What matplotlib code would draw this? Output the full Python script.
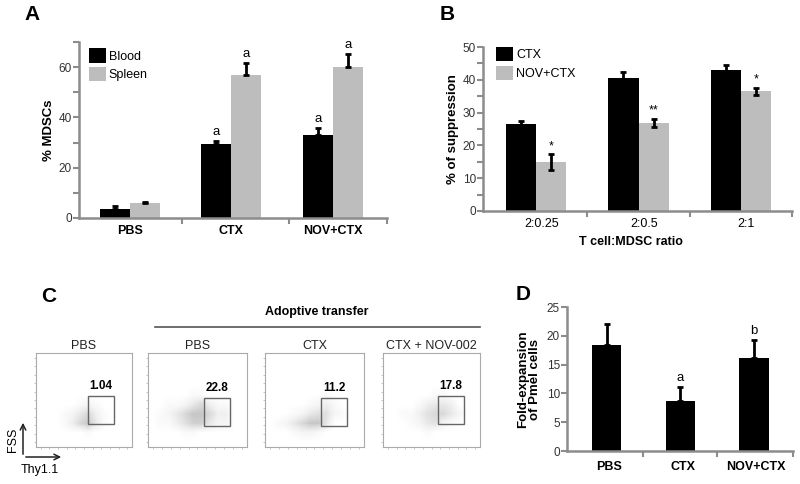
import numpy as np
import matplotlib
matplotlib.use("Agg")
import matplotlib.pyplot as plt
from matplotlib.patches import Rectangle
from matplotlib.text import Annotation

plt.rcParams['font.family'] = ['Liberation Sans', 'DejaVu Sans']

# ── data ────────────────────────────────────────────────────────
groups_A = ["PBS", "CTX", "NOV+CTX"]
blood = [3.5, 29.6, 33.2]
blood_err = [1.2, 1.1, 2.5]
spleen = [5.9, 56.8, 60.1]
spleen_err = [0.4, 4.8, 5.0]
blood_sig = ["", "a", "a"]
spleen_sig = ["", "a", "a"]

ratios = ["2:0.25", "2:0.5", "2:1"]
ctx_sup = [26.6, 40.5, 43.1]
ctx_sup_err = [0.8, 1.8, 1.4]
nov_sup = [14.9, 26.9, 36.5]
nov_sup_err = [2.4, 1.3, 1.1]
sup_stars = ["*", "**", "*"]

groups_D = ["PBS", "CTX", "NOV+CTX"]
fold = [18.4, 8.7, 16.1]
fold_err = [3.7, 2.4, 3.2]
fold_sig = ["", "a", "b"]

flow_titles = ["PBS", "PBS", "CTX", "CTX + NOV-002"]
flow_pct = ["1.04", "22.8", "11.2", "17.8"]
# coarse event density (rows top -> bottom)
flow_density = [
    ["000000000000", "000000000000", "000000000000", "000000000000",
     "000000000000", "000001210000", "000124631000", "000136841000",
     "000000100000", "000000000000"],
    ["000000000000", "000000000000", "000000000000", "000000000000",
     "000001100000", "001124631100", "012468863300", "011357742200",
     "000011000000", "000000000000"],
    ["000000000000", "000000000000", "000000000000", "000000000000",
     "000000010000", "000001231000", "000124552100", "012468840000",
     "000122100000", "000000000000"],
    ["000000000000", "000000000000", "000000000000", "000000000000",
     "000000110000", "000013443000", "001135664200", "000124521000",
     "000001000000", "000000000000"],
]

BLACK = "black"
GREY = "#BDBDBD"
AXC = "#8C8C8C"
W, H = 800, 484


def px_axes(fig, x0, x1, ytop, ybot):
    return fig.add_axes([x0 / W, 1 - ybot / H, (x1 - x0) / W, (ybot - ytop) / H])


def style_axis(ax):
    for s in ("top", "right"):
        ax.spines[s].set_visible(False)
    for s in ("left", "bottom"):
        ax.spines[s].set_color(AXC)
        ax.spines[s].set_linewidth(1.8)
    ax.tick_params(axis="y", which="both", color=AXC, width=1.5, length=4,
                   labelsize=8.5, labelcolor="#333333", pad=1)


fig = plt.figure(figsize=(8, 4.84), dpi=100, facecolor="white")

# ── A ──────────────────────────────────────────────────────────
ax = px_axes(fig, 79, 387, 42, 218)
style_axis(ax)
x = np.arange(len(groups_A))
bw = 0.295
ax.bar(x - bw / 2, blood, bw, color=BLACK, label="Blood")
ax.bar(x + bw / 2, spleen, bw, color=GREY, label="Spleen")
ax.errorbar(x - bw / 2, blood, yerr=[np.zeros(3), blood_err], fmt="none",
            ecolor="k", elinewidth=2, capsize=2.5, capthick=2)
ax.errorbar(x + bw / 2, spleen, yerr=[np.zeros(3), spleen_err], fmt="none",
            ecolor="k", elinewidth=2, capsize=2.5, capthick=2)
for i in range(3):
    if blood_sig[i]:
        ax.text(x[i] - bw / 2, blood[i] + blood_err[i] + 1.2, blood_sig[i],
                ha="center", va="bottom", fontsize=9.5)
    if spleen_sig[i]:
        ax.text(x[i] + bw / 2, spleen[i] + spleen_err[i] + 1.2, spleen_sig[i],
                ha="center", va="bottom", fontsize=9.5)
ax.set_xlim(-0.5, 2.53)
ax.set_ylim(0, 70)
ax.set_yticks([0, 20, 40, 60])
ax.set_yticks([10, 30, 50, 70], minor=True)
ax.set_xticks(x)
ax.set_xticklabels(groups_A, fontweight="bold", fontsize=9)
ax.set_xticks([0.51, 1.57, 2.53], minor=True)
ax.tick_params(axis="x", which="major", length=0, pad=5)
ax.tick_params(axis="x", which="minor", length=4, width=1.5, color=AXC)
ax.set_ylabel("% MDSCs", fontweight="bold", fontsize=9.5, labelpad=3)
ax.legend(loc="upper left", bbox_to_anchor=(0.032, 0.965), frameon=False,
          fontsize=9, handlelength=1.4, handleheight=1.4, borderpad=0,
          borderaxespad=0, handletextpad=0.2, labelspacing=0.35)

# ── B ──────────────────────────────────────────────────────────
ax = px_axes(fig, 483, 792, 47, 211)
style_axis(ax)
x = np.arange(len(ratios))
ax.bar(x - bw / 2, ctx_sup, bw, color=BLACK, label="CTX")
ax.bar(x + bw / 2, nov_sup, bw, color=GREY, label="NOV+CTX")
ax.errorbar(x - bw / 2, ctx_sup, yerr=ctx_sup_err, fmt="none",
            ecolor="k", elinewidth=2, capsize=2.5, capthick=2)
ax.errorbar(x + bw / 2, nov_sup, yerr=nov_sup_err, fmt="none",
            ecolor="k", elinewidth=2, capsize=2.5, capthick=2)
for i in range(3):
    ax.text(x[i] + bw / 2, nov_sup[i] + nov_sup_err[i] + 0.6, sup_stars[i],
            ha="center", va="bottom", fontsize=9)
ax.set_xlim(-0.52, 2.5)
ax.set_ylim(0, 50)
ax.set_yticks([0, 10, 20, 30, 40, 50])
ax.set_yticks([5, 15, 25, 35, 45], minor=True)
ax.set_xticks(x + 0.05)
ax.set_xticklabels(ratios, fontsize=9)
ax.set_xticks([0.5, 1.5, 2.5], minor=True)
ax.tick_params(axis="x", which="major", length=0, pad=5)
ax.tick_params(axis="x", which="minor", length=4, width=1.5, color=AXC)
ax.set_ylabel("% of suppression", fontweight="bold", fontsize=9.5, labelpad=3)
ax.set_xlabel("T cell:MDSC ratio", fontweight="bold", fontsize=9)
ax.xaxis.set_label_coords(0.48, -0.15)
ax.legend(loc="upper left", bbox_to_anchor=(0.042, 1.0), frameon=False,
          fontsize=9, handlelength=1.4, handleheight=1.4, borderpad=0,
          borderaxespad=0, handletextpad=0.2, labelspacing=0.35)

# ── D ──────────────────────────────────────────────────────────
ax = px_axes(fig, 567, 793, 307, 451)
style_axis(ax)
x = np.arange(len(groups_D))
ax.bar(x, fold, 0.40, color=BLACK)
ax.errorbar(x, fold, yerr=[np.zeros(3), fold_err], fmt="none",
            ecolor="k", elinewidth=2, capsize=2.5, capthick=2)
for i in range(3):
    if fold_sig[i]:
        ax.text(x[i], fold[i] + fold_err[i] + 0.5, fold_sig[i],
                ha="center", va="bottom", fontsize=9.5)
ax.set_xlim(-0.54, 2.53)
ax.set_ylim(0, 25)
ax.set_yticks([0, 5, 10, 15, 20, 25])
ax.set_xticks(x + 0.03)
ax.set_xticklabels(groups_D, fontweight="bold", fontsize=9)
ax.set_xticks([0.49, 1.5, 2.53], minor=True)
ax.tick_params(axis="x", which="major", length=0, pad=7)
ax.tick_params(axis="x", which="minor", length=4, width=1.5, color=AXC)
ax.set_ylabel("Fold-expansion\nof Pmel cells", fontweight="bold", fontsize=9.5,
              labelpad=4, linespacing=1.0)

# ── C: flow dot plots ───────────────────────────────────────────
boxes = [(36, 132), (148, 247), (265, 364), (383, 480)]
gates = [(0.54, 0.81, 0.245, 0.54), (0.566, 0.83, 0.225, 0.52),
         (0.566, 0.83, 0.225, 0.52), (0.566, 0.83, 0.245, 0.54)]
for k, (x0, x1) in enumerate(boxes):
    fa = px_axes(fig, x0, x1, 353, 447)
    dens = np.array([[int(c) for c in row] for row in flow_density[k]], float)
    fa.imshow(dens, cmap="Greys", vmin=0, vmax=24, extent=(0, 1, 0, 1),
              interpolation="bilinear", aspect="auto", origin="upper")
    g = gates[k]
    fa.add_patch(Rectangle((g[0], g[2]), g[1] - g[0], g[3] - g[2], fill=False,
                           ec="#666666", lw=1.0, transform=fa.transAxes))
    fa.text((g[0] + g[1]) / 2, g[3] + 0.04, flow_pct[k], ha="center",
            va="bottom", fontweight="bold", fontsize=8.5,
            transform=fa.transAxes)
    fa.set_xlim(0, 1)
    fa.set_ylim(0, 1)
    for s in fa.spines.values():
        s.set_color("#AAAAAA")
        s.set_linewidth(0.8)
    fa.set_xticks(np.linspace(0.05, 0.95, 11))
    fa.set_yticks(np.linspace(0.05, 0.95, 11))
    fa.tick_params(which="both", length=1.5, width=0.6, color="#BBBBBB",
                   labelbottom=False, labelleft=False, direction="out")
    fa.set_title(flow_titles[k], fontsize=9, pad=3, color="#222222")

fig.text(317 / W, 1 - 312 / H, "Adoptive transfer", ha="center", va="center",
         fontweight="bold", fontsize=9)
fig.add_artist(plt.Line2D([155 / W, 480 / W], [1 - 327 / H, 1 - 327 / H],
                          color="#555555", lw=1.2))

# axis arrows for the dot plots
ann = dict(arrowprops=dict(arrowstyle="->", color="#222222", lw=1.1),
           xycoords="figure pixels", textcoords="figure pixels")
fig.add_artist(Annotation("", xy=(23, H - 420), xytext=(23, H - 457), **ann))
fig.add_artist(Annotation("", xy=(64, H - 457), xytext=(23, H - 457), **ann))
fig.text(13 / W, 1 - 440 / H, "FSS", rotation=90, ha="center", va="center",
         fontsize=9)
fig.text(40 / W, 1 - 470 / H, "Thy1.1", ha="center", va="center", fontsize=9)

# ── panel letters ───────────────────────────────────────────────
for lab, (px, py) in {"A": (32, 15), "B": (447, 15), "C": (49, 297),
                      "D": (523, 295)}.items():
    fig.text(px / W, 1 - py / H, lab, ha="center", va="center",
             fontweight="bold", fontsize=15)

fig.savefig("out.png", dpi=100, facecolor="white")
